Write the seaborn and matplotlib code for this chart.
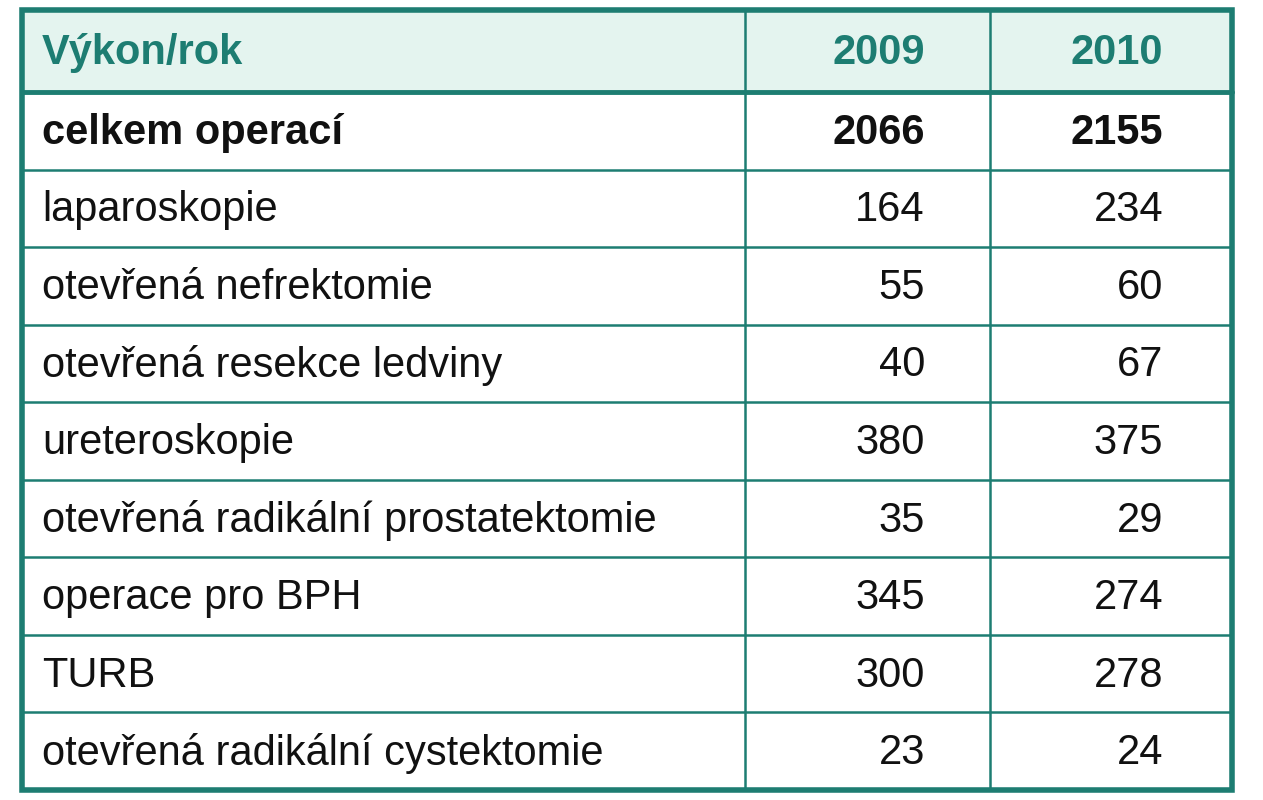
import matplotlib
matplotlib.use("Agg")
import matplotlib.pyplot as plt
import seaborn as sns

sns.set_theme(style="white")
plt.rcParams['font.family'] = ['Liberation Sans', 'DejaVu Sans']

header = ["Výkon/rok", "2009", "2010"]
labels = ["celkem operací", "laparoskopie", "otevřená nefrektomie",
          "otevřená resekce ledviny", "ureteroskopie",
          "otevřená radikální prostatektomie", "operace pro BPH", "TURB",
          "otevřená radikální cystektomie"]
v2009 = [2066, 164, 55, 40, 380, 35, 345, 300, 23]
v2010 = [2155, 234, 60, 67, 375, 29, 274, 278, 24]

W, H = 1263, 800
fig = plt.figure(figsize=(W/100, H/100), dpi=100)
ax = fig.add_axes([0, 0, 1, 1])
ax.set_xlim(0, W); ax.set_ylim(H, 0); ax.axis("off")

teal = "#1d7d72"
left, right, top, bottom = 22, 1232, 10, 790
hdr_bottom = 92
n = len(labels)
rowh = (bottom - hdr_bottom) / n

ax.add_patch(plt.Rectangle((left, top), right-left, hdr_bottom-top, facecolor="#e4f4ef", edgecolor="none"))
ax.add_patch(plt.Rectangle((left, top), right-left, bottom-top, facecolor="none", edgecolor=teal, lw=4))
ax.plot([left, right], [hdr_bottom, hdr_bottom], color=teal, lw=3.5)
for i in range(1, n):
    y = hdr_bottom + i*rowh
    ax.plot([left, right], [y, y], color=teal, lw=1.8)
for x in (745, 990):
    ax.plot([x, x], [top, bottom], color=teal, lw=1.8)

fs = 30
xl, x1, x2 = 42, 925, 1163
yc = (top + hdr_bottom) / 2 + 2
ax.text(xl, yc, header[0], ha="left", va="center", fontsize=fs, fontweight="bold", color=teal)
ax.text(x1, yc, header[1], ha="right", va="center", fontsize=fs, fontweight="bold", color=teal)
ax.text(x2, yc, header[2], ha="right", va="center", fontsize=fs, fontweight="bold", color=teal)
for i, (lab, a, b) in enumerate(zip(labels, v2009, v2010)):
    y = hdr_bottom + (i + 0.5)*rowh + 2
    fw = "bold" if i == 0 else "normal"
    ax.text(xl, y, lab, ha="left", va="center", fontsize=fs, fontweight=fw, color="#111111")
    ax.text(x1, y, str(a), ha="right", va="center", fontsize=fs, fontweight=fw, color="#111111")
    ax.text(x2, y, str(b), ha="right", va="center", fontsize=fs, fontweight=fw, color="#111111")

fig.savefig("out.png", dpi=100, facecolor="white")
